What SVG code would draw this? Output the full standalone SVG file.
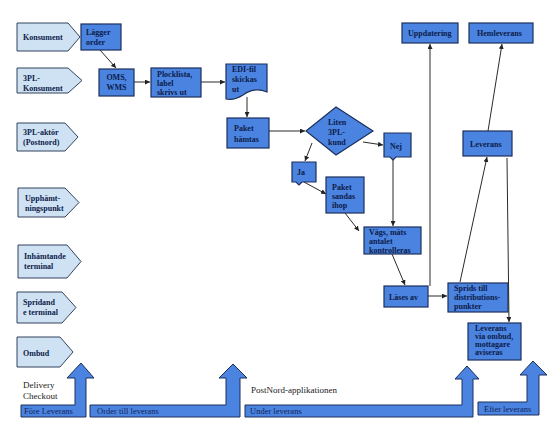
<svg xmlns="http://www.w3.org/2000/svg" width="558" height="426" viewBox="0 0 558 426">
<defs>
<marker id="ah" viewBox="0 0 6 6" refX="6" refY="3" markerWidth="5" markerHeight="5" orient="auto" markerUnits="userSpaceOnUse"><path d="M0,0 L6,3 L0,6 Z" fill="#222"/></marker>
<style>
.lane{fill:#cfe2f3;stroke:#33435f;stroke-width:1}
.node{fill:#4a84e0;stroke:#1c2f5c;stroke-width:1.2}
.nt{font-family:"Liberation Serif",serif;font-weight:bold;font-size:8px;fill:#0d1b4a}
.conn{stroke:#2a2a2a;stroke-width:1;fill:none;marker-end:url(#ah)}
.big{fill:#4a84e0;stroke:#1c2f5c;stroke-width:1}
.bt{font-family:"Liberation Serif",serif;font-size:8.5px;fill:#13235a}
.pt{font-family:"Liberation Serif",serif;font-size:9px;fill:#222}
</style>
</defs>
<rect width="558" height="426" fill="#fff"/>

<g id="lane-konsument"><polygon class="lane" points="17,23 68,23 80,37 68,51 17,51"/><text class="nt" x="23" y="40">Konsument</text></g>
<g id="lane-3pl-konsument"><polygon class="lane" points="17,68 68,68 82,80.5 68,93 17,93"/><text class="nt" x="23" y="81">3PL-</text><text class="nt" x="23" y="91">Konsument</text></g>
<g id="lane-3pl-aktor"><polygon class="lane" points="17,123 65,123 78,137 65,151 17,151"/><text class="nt" x="23" y="135">3PL-aktör</text><text class="nt" x="23" y="145">(Postnord)</text></g>
<g id="lane-upphamt"><polygon class="lane" points="18,188 65,188 79,202.5 65,217 18,217"/><text class="nt" x="25" y="201">Upphämt-</text><text class="nt" x="25" y="211">ningspunkt</text></g>
<g id="lane-inhamt"><polygon class="lane" points="18,245 67,245 81,261.5 67,278 18,278"/><text class="nt" x="24" y="259">Inhämtande</text><text class="nt" x="24" y="269">terminal</text></g>
<g id="lane-spridande"><polygon class="lane" points="17,292 62,292 76,307.5 62,323 17,323"/><text class="nt" x="23" y="305">Spridand</text><text class="nt" x="23" y="315">e terminal</text></g>
<g id="lane-ombud"><polygon class="lane" points="17,337 60,337 73,352 60,367 17,367"/><text class="nt" x="23" y="356">Ombud</text></g>

<g id="n-lagger"><rect class="node" x="81" y="24" width="40" height="26"/><text class="nt" x="86" y="35" font-size="9">Lägger</text><text class="nt" x="86" y="45" font-size="9">order</text></g>
<g id="n-oms"><rect class="node" x="99" y="69" width="35" height="27"/><text class="nt" x="116.5" y="80" text-anchor="middle">OMS,</text><text class="nt" x="116.5" y="90" text-anchor="middle">WMS</text></g>
<g id="n-plock"><rect class="node" x="151" y="68" width="50" height="29"/><text class="nt" x="157" y="77">Plocklista,</text><text class="nt" x="157" y="86">label</text><text class="nt" x="157" y="95">skrivs ut</text></g>
<g id="n-edi"><path class="node" d="M226,64 H267 V92 C258,88 250,90 243,95 C237,99 231,100 226,99 Z"/><text class="nt" x="232" y="72">EDI-fil</text><text class="nt" x="232" y="82">skickas</text><text class="nt" x="232" y="92">ut</text></g>
<g id="n-paket-hamtas"><rect class="node" x="227" y="118" width="42" height="30"/><text class="nt" x="234" y="131">Paket</text><text class="nt" x="234" y="142">hämtas</text></g>
<g id="n-liten"><polygon class="node" points="306,131 336,107 373,131 336,155"/><text class="nt" x="328" y="125">Liten</text><text class="nt" x="328" y="135">3PL-</text><text class="nt" x="328" y="145">kund</text></g>
<g id="n-nej"><path class="node" d="M384,133 H411 V157 H396 L393,160 L390,157 H384 Z"/><text class="nt" x="390" y="149">Nej</text></g>
<g id="n-ja"><path class="node" d="M292,162 H316 V182 H302 L299,185 L296,182 H292 Z"/><text class="nt" x="297" y="175">Ja</text></g>
<g id="n-sandas"><rect class="node" x="326" y="177" width="38" height="36"/><text class="nt" x="332" y="190">Paket</text><text class="nt" x="332" y="199">sandas</text><text class="nt" x="332" y="208">ihop</text></g>
<g id="n-vags"><rect class="node" x="364" y="227" width="57" height="27"/><text class="nt" x="369" y="235">Vägs, mäts</text><text class="nt" x="369" y="244">antalet</text><text class="nt" x="369" y="253">kontrolleras</text></g>
<g id="n-lases"><rect class="node" x="384" y="286" width="44" height="21"/><text class="nt" x="389" y="300">Läses av</text></g>
<g id="n-sprids"><rect class="node" x="448" y="283" width="60" height="29"/><text class="nt" x="454" y="291">Sprids till</text><text class="nt" x="454" y="300">distributions-</text><text class="nt" x="454" y="309">punkter</text></g>
<g id="n-leverans"><rect class="node" x="463" y="131" width="49" height="25"/><text class="nt" x="470" y="147">Leverans</text></g>
<g id="n-uppdatering"><rect class="node" x="402" y="23" width="56" height="20"/><text class="nt" x="408" y="36">Uppdatering</text></g>
<g id="n-hemleverans"><rect class="node" x="469" y="23" width="64" height="20"/><text class="nt" x="477" y="36">Hemleverans</text></g>
<g id="n-ombud-lev"><rect class="node" x="468" y="323" width="53" height="37"/><text class="nt" x="475" y="331">Leverans</text><text class="nt" x="475" y="339">via ombud,</text><text class="nt" x="475" y="347">mottagare</text><text class="nt" x="475" y="355">aviseras</text></g>

<g id="connectors">
<line class="conn" x1="100" y1="50" x2="116" y2="68"/>
<line class="conn" x1="134" y1="82" x2="150" y2="82"/>
<line class="conn" x1="201" y1="82" x2="225" y2="82"/>
<line class="conn" x1="247" y1="97" x2="247" y2="117"/>
<line class="conn" x1="269" y1="131" x2="305" y2="131"/>
<line class="conn" x1="363" y1="142" x2="383" y2="145"/>
<line class="conn" x1="312" y1="143" x2="305" y2="161"/>
<line class="conn" x1="304" y1="182" x2="326" y2="194"/>
<line class="conn" x1="345" y1="213" x2="359" y2="231"/>
<line class="conn" x1="393" y1="160" x2="393" y2="226"/>
<line class="conn" x1="392" y1="254" x2="405" y2="285"/>
<line class="conn" x1="428" y1="296" x2="447" y2="296"/>
<line class="conn" x1="430" y1="286" x2="430" y2="44"/>
<line class="conn" x1="460" y1="282" x2="487" y2="157"/>
<line class="conn" x1="488" y1="131" x2="502" y2="44"/>
<line class="conn" x1="507" y1="158" x2="509" y2="322"/>
</g>

<g id="phase-fore"><polygon class="big" points="21,405 75,405 75,378 67,378 81,363 94,378 86,378 86,417 21,417"/><text class="bt" x="24" y="414">Före Leverans</text></g>
<g id="phase-order"><polygon class="big" points="90,405 226,405 226,378 219,378 233,364 247,378 240,378 240,417 90,417"/><text class="bt" x="97" y="414">Order till leverans</text></g>
<g id="phase-under"><polygon class="big" points="245,405 462,405 462,379 455,379 467,366 479,379 473,379 473,417 245,417"/><text class="bt" x="250" y="414">Under leverans</text></g>
<g id="phase-efter"><polygon class="big" points="478,402 527,402 527,375 520,375 533,361 547,375 539,375 539,415 478,415"/><text class="bt" x="484" y="412">Efter leverans</text></g>

<text class="pt" x="23" y="388">Delivery</text>
<text class="pt" x="23" y="399">Checkout</text>
<text class="pt" x="251" y="393">PostNord-applikationen</text>
</svg>
